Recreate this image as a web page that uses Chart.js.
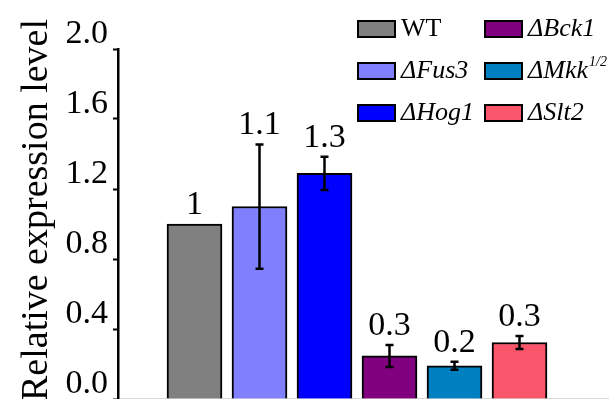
<!DOCTYPE html>
<html>
<head>
<meta charset="utf-8">
<script src="https://cdn.jsdelivr.net/npm/chart.js@4.4.1/dist/chart.umd.min.js"></script>
<style>
  html, body { margin: 0; padding: 0; background: #fff; overflow: hidden; }
  #wrap { width: 609px; height: 399px; }
</style>
</head>
<body>
<div id="wrap"><canvas id="grafica" width="609" height="399"></canvas></div>
<script>
// datos
const genotipos = ['WT', 'ΔFus3', 'ΔHog1', 'ΔBck1', 'ΔMkk', 'ΔSlt2'];
const superindices = ['', '', '', '', '1/2', ''];
const posiciones = [1, 2, 3, 4, 5, 6];
const medias = [1.0, 1.10, 1.29, 0.246, 0.19, 0.323];
const errores = [0, 0.355, 0.095, 0.063, 0.023, 0.037];
const etiquetasValor = ['1', '1.1', '1.3', '0.3', '0.2', '0.3'];
const colores = ['#808080', '#8080ff', '#0000ff', '#800080', '#0080c0', '#f9566c'];
const ticksY = [0, 0.4, 0.8, 1.2, 1.6, 2.0];
const tituloY = 'Relative expression level';

const SERIF = '"Liberation Serif", "Times New Roman", serif';

// barras de error
const pluginErrores = {
    id: 'errores',
    afterDatasetsDraw(chart) {
        const { ctx, scales: { x, y } } = chart;
        ctx.save();
        ctx.strokeStyle = '#000';
        ctx.lineWidth = 2.5;
        posiciones.forEach((p, i) => {
            if (!errores[i]) return;
            const cx = x.getPixelForValue(p);
            const arriba = y.getPixelForValue(medias[i] + errores[i]);
            const abajo = y.getPixelForValue(medias[i] - errores[i]);
            ctx.beginPath();
            ctx.moveTo(cx, arriba); ctx.lineTo(cx, abajo);
            ctx.moveTo(cx - 4, arriba); ctx.lineTo(cx + 4, arriba);
            ctx.moveTo(cx - 4, abajo); ctx.lineTo(cx + 4, abajo);
            ctx.stroke();
        });
        ctx.restore();
    }
};

// numeros encima de las barras
const pluginEtiquetas = {
    id: 'etiquetas',
    afterDatasetsDraw(chart) {
        const { ctx, scales: { x, y } } = chart;
        ctx.save();
        ctx.fillStyle = '#000';
        ctx.font = '34px ' + SERIF;
        ctx.textAlign = 'center';
        ctx.textBaseline = 'alphabetic';
        posiciones.forEach((p, i) => {
            const cx = x.getPixelForValue(p);
            const tope = y.getPixelForValue(medias[i] + errores[i]);
            ctx.fillText(etiquetasValor[i], cx, tope - 10);
        });
        ctx.restore();
    }
};

// leyenda en dos columnas y titulo del eje Y
const pluginLeyenda = {
    id: 'leyenda',
    afterDraw(chart) {
        const ctx = chart.ctx;
        ctx.save();
        const columnas = [358, 485];
        const filas = [21, 63, 105];
        genotipos.forEach((g, i) => {
            const col = Math.floor(i / 3), fila = i % 3;
            const sx = columnas[col], sy = filas[fila];
            ctx.fillStyle = colores[i];
            ctx.fillRect(sx, sy, 37, 16);
            ctx.strokeStyle = '#000';
            ctx.lineWidth = 2;
            ctx.strokeRect(sx, sy, 37, 16);
            ctx.fillStyle = '#000';
            ctx.textAlign = 'left';
            ctx.textBaseline = 'alphabetic';
            ctx.font = (g === 'WT' ? '' : 'italic ') + '26px ' + SERIF;
            const tx = sx + 43, ty = sy + 15;
            ctx.fillText(g, tx, ty);
            if (superindices[i]) {
                const w = ctx.measureText(g).width;
                ctx.font = 'italic 14px ' + SERIF;
                ctx.fillText(superindices[i], tx + w + 1, ty - 12);
            }
        });
        // titulo del eje
        ctx.translate(47, 210);
        ctx.rotate(-Math.PI / 2);
        ctx.font = '38px ' + SERIF;
        ctx.textAlign = 'center';
        ctx.textBaseline = 'alphabetic';
        ctx.fillText(tituloY, 0, 0);
        ctx.restore();
    }
};

new Chart(document.getElementById('grafica'), {
    type: 'bar',
    data: {
        datasets: [{
            data: posiciones.map((p, i) => ({ x: p, y: medias[i] })),
            backgroundColor: colores,
            borderColor: '#000',
            borderWidth: 2,
            barThickness: 55,
            grouped: false
        }]
    },
    options: {
        responsive: false,
        animation: false,
        layout: { padding: { top: 49, left: 0, right: 0, bottom: 0 } },
        plugins: { legend: { display: false }, tooltip: { enabled: false } },
        scales: {
            x: {
                type: 'linear',
                offset: false,
                min: 1 - 76.5 / 65,
                max: 1 - 76.5 / 65 + 491 / 65,
                ticks: { display: false },
                grid: { display: false },
                border: { display: true, color: '#d8d8d8', width: 2 },
                afterFit: s => { s.height = 0; s.paddingLeft = 0; s.paddingRight = 0; }
            },
            y: {
                min: 0,
                max: 2.0,
                ticks: {
                    stepSize: 0.2,
                    color: '#000',
                    padding: 5,
                    labelOffset: -15,
                    font: { family: SERIF, size: 34 },
                    callback: v => ticksY.some(t => Math.abs(t - v) < 1e-6) ? v.toFixed(1) : ''
                },
                grid: {
                    drawOnChartArea: false,
                    drawTicks: true,
                    tickLength: 5,
                    tickWidth: 2,
                    tickColor: '#000'
                },
                border: { display: true, color: '#000', width: 2.5 },
                afterFit: s => { s.width = 118; s.paddingTop = 0; s.paddingBottom = 0; }
            }
        }
    },
    plugins: [pluginErrores, pluginEtiquetas, pluginLeyenda]
});
</script>
</body>
</html>
